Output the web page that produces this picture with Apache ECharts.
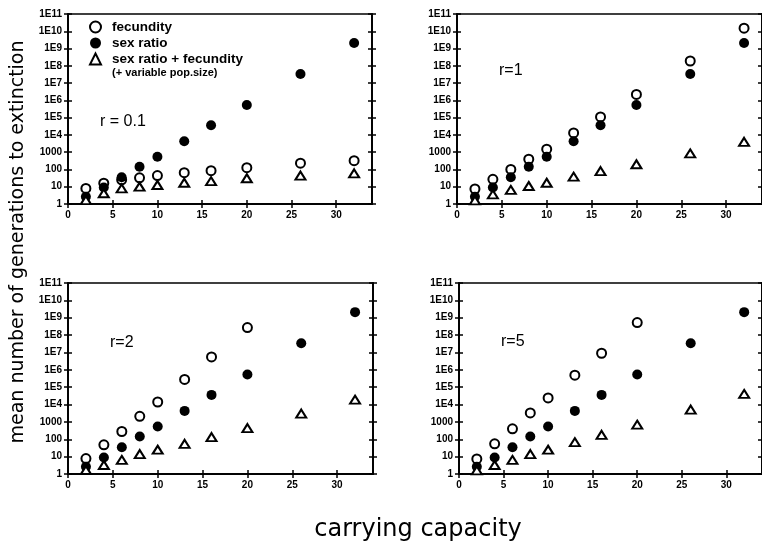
<!DOCTYPE html>
<html>
<head>
<meta charset="utf-8">
<script src="https://cdn.jsdelivr.net/npm/echarts@6/dist/echarts.min.js"></script>
<style>
  html, body { margin: 0; background: #fff; }
  #chart { width: 762px; height: 545px; }
</style>
</head>
<body>
<div id="chart"></div>
<script>
// carrying capacity (x) for every point
const capacity = [2, 4, 6, 8, 10, 13, 16, 20, 26, 32]
const yTickLabels = ['1', '10', '100', '1000', '1E4', '1E5', '1E6', '1E7', '1E8', '1E9', '1E10', '1E11']
const panelLabels = ['r = 0.1', 'r=1', 'r=2', 'r=5']

// sex ratio is the same in all four panels
const sexRatio = [2.6, 9, 35, 145, 550, 4300, 36000, 5.4e5, 3.4e7, 2.1e9]

const fecundityR01 = [8, 16, 25, 33, 44, 65, 85, 126, 230, 320]
const fecundityR1 = [7.4, 27, 100, 390, 1500, 13000, 1.1e5, 2.2e6, 1.9e8, 1.5e10]
const fecundityR2 = [7.7, 48, 280, 2100, 14000, 2.8e5, 5.5e6, 2.7e8]
const fecundityR5 = [7.4, 55, 400, 3300, 24000, 4.9e5, 9e6, 5.3e8]

const bothR01 = [1.7, 4.2, 8, 10, 12.6, 17, 21, 31, 44, 60]
const bothR1 = [1.6, 3.6, 6.5, 11, 17, 38, 81, 200, 850, 4000]
const bothR2 = [1.7, 3.3, 6.5, 14, 25, 55, 133, 440, 3000, 19000]
const bothR5 = [1.6, 3.3, 6.5, 14, 25, 68, 180, 690, 5100, 41000]

const fecundity = [fecundityR01, fecundityR1, fecundityR2, fecundityR5]
const both = [bothR01, bothR1, bothR2, bothR5]

// grid boxes, in pixels
const boxes = [
  { left: 68, top: 14, width: 304, height: 190 },
  { left: 457, top: 14, width: 309, height: 190 },
  { left: 68, top: 283, width: 305, height: 191 },
  { left: 459, top: 283, width: 309, height: 191 },
]
const labelPos = [[100, 114], [499, 63], [110, 335], [501, 334]]

const toPoints = (vals) => vals.map((v, i) => [capacity[i], v])

const chart = echarts.init(document.getElementById('chart'))

const tickFont = { color: '#000', fontSize: 10, fontWeight: 'bold', fontFamily: 'Liberation Sans' }
const line = { show: true, lineStyle: { color: '#000', width: 1.5 } }

const grid = [], xAxis = [], yAxis = [], series = [], graphic = []

boxes.forEach((b, i) => {
  grid.push({ ...b, show: true, borderColor: '#000', borderWidth: 1.5, backgroundColor: 'transparent' })

  // x axis: ticks cross the line, so one outside and one inside
  ;['outside', 'inside'].forEach((side, k) => {
    xAxis.push({
      gridIndex: i, type: 'value', min: 0, max: 34, interval: 5, position: 'bottom',
      axisLine: line,
      axisTick: { show: true, inside: side === 'inside', length: 4, lineStyle: { color: '#000', width: 1.5 } },
      axisLabel: { show: k === 0, showMaxLabel: false, margin: 6, ...tickFont },
      splitLine: { show: false },
    })
  })

  // y axes: left and right, both with crossing ticks
  ;[['left', 'outside'], ['left', 'inside'], ['right', 'outside'], ['right', 'inside']].forEach(([pos, side], k) => {
    yAxis.push({
      gridIndex: i, type: 'log', logBase: 10, min: 1, max: 1e11, interval: 1, splitNumber: 11, position: pos,
      axisLine: line,
      axisTick: { show: true, inside: side === 'inside', length: 4, lineStyle: { color: '#000', width: 1.5 } },
      axisLabel: {
        show: k === 0, margin: 6, ...tickFont,
        formatter: (v) => yTickLabels[Math.round(Math.log10(v))],
      },
      splitLine: { show: false },
      minorTick: { show: false },
    })
  })

  const common = { type: 'scatter', xAxisIndex: i * 2, yAxisIndex: i * 4, z: 5 }
  series.push({
    ...common, name: 'fecundity', symbol: 'circle', symbolSize: 9,
    itemStyle: { color: '#fff', borderColor: '#000', borderWidth: 2, opacity: 1 },
    data: toPoints(fecundity[i]),
  })
  series.push({
    ...common, name: 'sex ratio', symbol: 'circle', symbolSize: 10,
    itemStyle: { color: '#000', opacity: 1 },
    data: toPoints(sexRatio),
  })
  series.push({
    ...common, name: 'sex ratio + fecundity', symbol: 'triangle', symbolSize: [10, 8],
    itemStyle: { color: '#fff', borderColor: '#000', borderWidth: 2, opacity: 1 },
    data: toPoints(both[i]),
  })

  graphic.push({
    type: 'text', left: labelPos[i][0], top: labelPos[i][1],
    style: { text: panelLabels[i], fill: '#000', font: '16px "Liberation Sans"' },
  })
})

graphic.push({
  type: 'text', left: 112, top: 67,
  style: { text: '(+ variable pop.size)', fill: '#000', font: 'bold 11px "Liberation Sans"' },
})
graphic.push({
  type: 'text', x: 18, y: 242, rotation: Math.PI / 2,
  style: {
    text: 'mean number of generations to extinction', fill: '#000',
    font: '19px "DejaVu Sans"', align: 'center', verticalAlign: 'middle',
  },
})
graphic.push({
  type: 'text', x: 418, y: 530,
  style: {
    text: 'carrying capacity', fill: '#000',
    font: '24px "DejaVu Sans"', align: 'center', verticalAlign: 'middle',
  },
})

chart.setOption({
  animation: false,
  backgroundColor: '#fff',
  grid, xAxis, yAxis, series, graphic,
  legend: {
    orient: 'vertical', left: 84, top: 15, itemGap: 2,
    itemWidth: 11, itemHeight: 11,
    textStyle: { color: '#000', fontSize: 13.5, fontWeight: 'bold', fontFamily: 'Liberation Sans', padding: [0, 0, 0, 6] },
    data: ['fecundity', 'sex ratio', 'sex ratio + fecundity'],
  },
})
</script>
</body>
</html>
